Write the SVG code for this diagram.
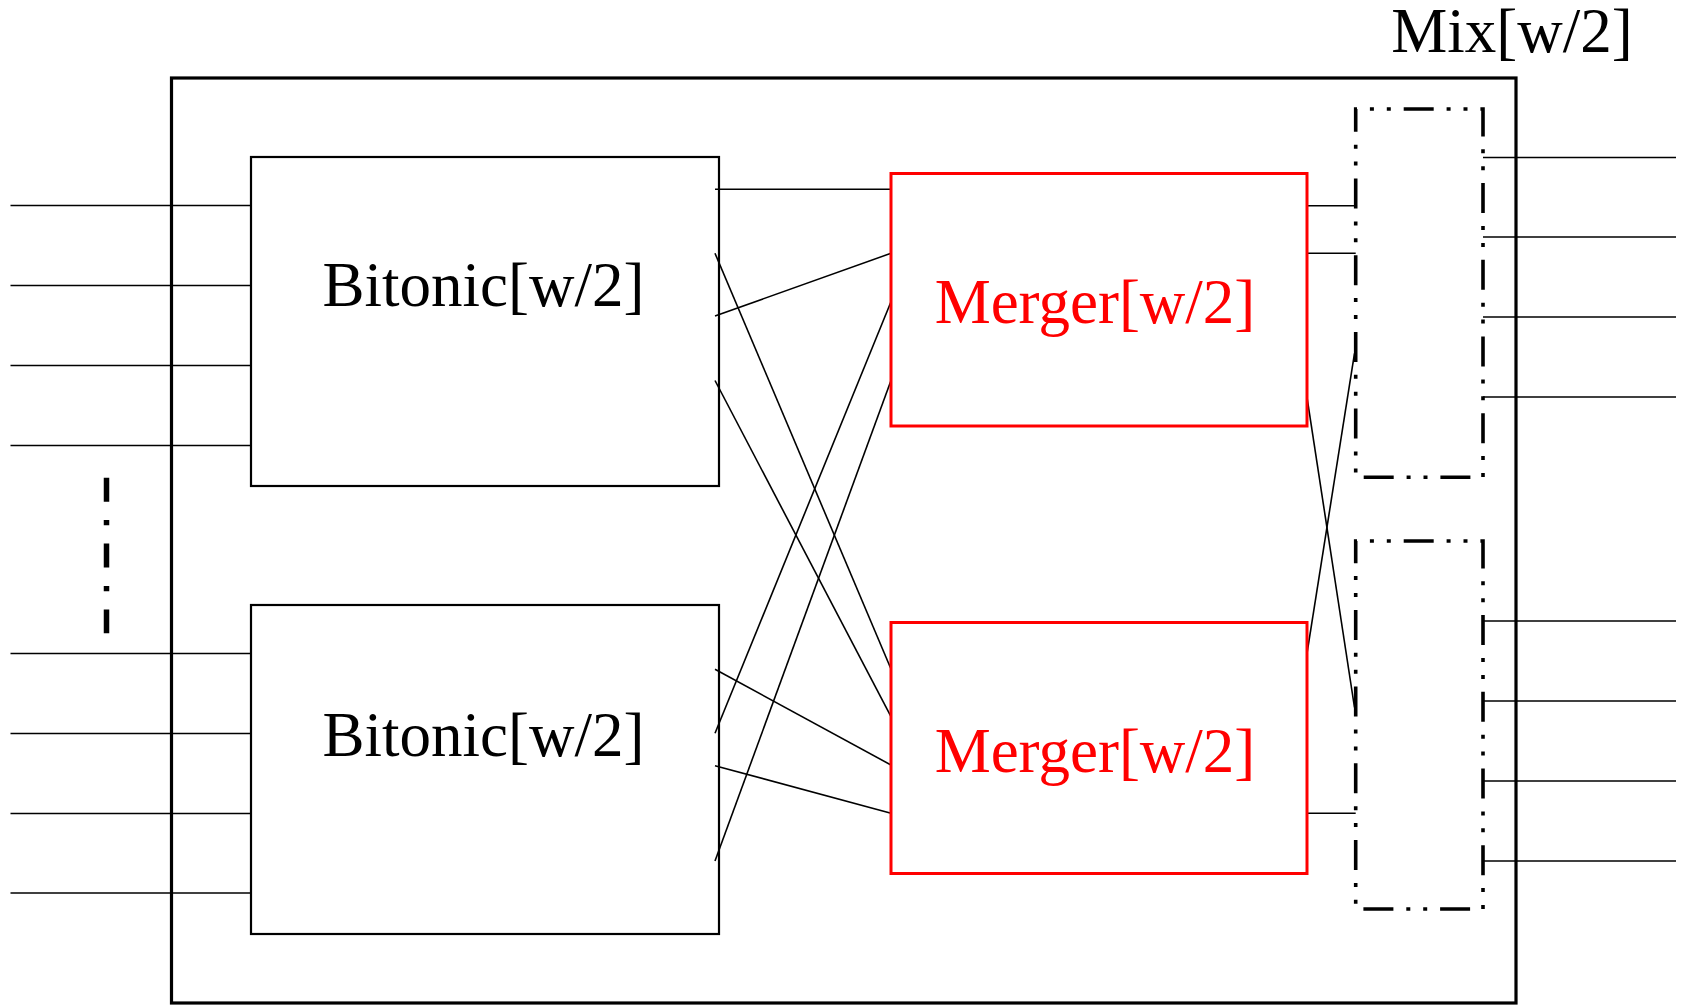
<svg xmlns="http://www.w3.org/2000/svg" width="1683" height="1006" viewBox="0 0 1683 1006">
  <style>
    .wire { stroke: #000; stroke-width: 1.6; fill: none; }
    .bitonic { fill: none; stroke: #000; stroke-width: 2.2; }
    .merger { fill: none; stroke: #ff0000; stroke-width: 3; }
    .mixbox { fill: none; stroke: #000; stroke-width: 3.6; stroke-dasharray: 30 12.9 4 12.9 4 12.9; stroke-dashoffset: 28.7; }
    .outer { fill: none; stroke: #000; stroke-width: 3.2; }
    .label { font-family: "Liberation Serif", "Times New Roman", serif; font-size: 63px; text-anchor: middle; }
  </style>
  <rect width="1683" height="1006" fill="#fff"/>

  <!-- enclosing Mix[w/2] block -->
  <g id="mix">
    <rect class="outer" x="171.5" y="78" width="1344.5" height="925"/>
    <text class="label" x="1512" y="52">Mix[w/2]</text>
  </g>

  <!-- wires -->
  <g id="connectors">
    <!-- inputs -->
    <line class="wire" x1="10.5" y1="205.5" x2="251" y2="205.5"/>
    <line class="wire" x1="10.5" y1="285.5" x2="251" y2="285.5"/>
    <line class="wire" x1="10.5" y1="365.5" x2="251" y2="365.5"/>
    <line class="wire" x1="10.5" y1="445.5" x2="251" y2="445.5"/>
    <line class="wire" x1="10.5" y1="653.5" x2="251" y2="653.5"/>
    <line class="wire" x1="10.5" y1="733.5" x2="251" y2="733.5"/>
    <line class="wire" x1="10.5" y1="813.5" x2="251" y2="813.5"/>
    <line class="wire" x1="10.5" y1="893" x2="251" y2="893"/>
    <!-- ellipsis between input groups -->
    <line x1="106.5" y1="477.7" x2="106.5" y2="633.3" stroke="#000" stroke-width="5.5" stroke-dasharray="24 18.3 5.3 18.3"/>

    <!-- bitonic to merger -->
    <line class="wire" x1="715" y1="189.3" x2="891" y2="189.3"/>
    <line class="wire" x1="715" y1="316" x2="891" y2="253.3"/>
    <line class="wire" x1="715" y1="253.3" x2="891" y2="669"/>
    <line class="wire" x1="715" y1="380.5" x2="891" y2="716.7"/>
    <line class="wire" x1="891" y1="301.7" x2="715" y2="733.3"/>
    <line class="wire" x1="891" y1="380.5" x2="715" y2="861"/>
    <line class="wire" x1="715" y1="669.3" x2="891" y2="765"/>
    <line class="wire" x1="715" y1="765.7" x2="891" y2="813.3"/>

    <!-- merger to final stage -->
    <line class="wire" x1="1307" y1="205.7" x2="1355.7" y2="205.7"/>
    <line class="wire" x1="1307" y1="253.3" x2="1355.7" y2="253.3"/>
    <line class="wire" x1="1307" y1="397.3" x2="1354.5" y2="707.5"/>
    <line class="wire" x1="1354.5" y1="353.3" x2="1307" y2="653.3"/>
    <line class="wire" x1="1307" y1="813.3" x2="1355.7" y2="813.3"/>

    <!-- outputs -->
    <line class="wire" x1="1483" y1="157.5" x2="1676" y2="157.5"/>
    <line class="wire" x1="1483" y1="237" x2="1676" y2="237"/>
    <line class="wire" x1="1483" y1="317" x2="1676" y2="317"/>
    <line class="wire" x1="1483" y1="397" x2="1676" y2="397"/>
    <line class="wire" x1="1483" y1="621" x2="1676" y2="621"/>
    <line class="wire" x1="1483" y1="701" x2="1676" y2="701"/>
    <line class="wire" x1="1483" y1="781" x2="1676" y2="781"/>
    <line class="wire" x1="1483" y1="861" x2="1676" y2="861"/>
  </g>

  <g id="bitonic-top">
    <rect class="bitonic" x="251" y="157" width="468" height="329"/>
    <text class="label" x="483.5" y="306">Bitonic[w/2]</text>
  </g>
  <g id="bitonic-bottom">
    <rect class="bitonic" x="251" y="605" width="468" height="329"/>
    <text class="label" x="483.5" y="756">Bitonic[w/2]</text>
  </g>

  <g id="merger-top">
    <rect class="merger" x="891" y="173.5" width="416" height="252.5"/>
    <text class="label" x="1095" y="323.3" fill="#ff0000">Merger[w/2]</text>
  </g>
  <g id="merger-bottom">
    <rect class="merger" x="891" y="622.5" width="416" height="251"/>
    <text class="label" x="1095" y="772" fill="#ff0000">Merger[w/2]</text>
  </g>

  <g id="mix-top">
    <path class="mixbox" d="M1355.7 109 H1483 V477.3 H1355.7 Z"/>
  </g>
  <g id="mix-bottom">
    <path class="mixbox" d="M1355.7 541 H1483 V909 H1355.7 Z"/>
  </g>
</svg>
